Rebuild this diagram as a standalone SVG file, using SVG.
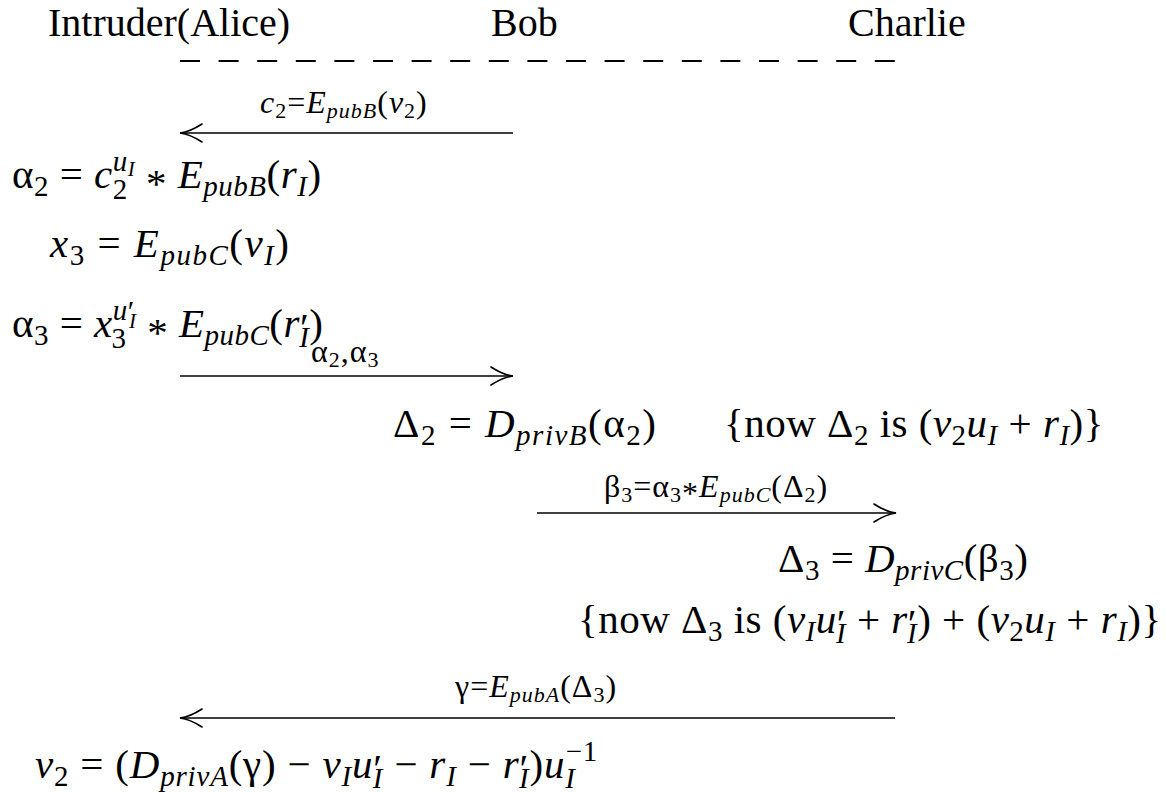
<svg xmlns="http://www.w3.org/2000/svg" width="1166" height="792" viewBox="0 0 1166 792" font-family="Liberation Serif, serif">
<style>
text,tspan{font-family:"Liberation Serif","Times New Roman",serif}
.t{fill:#000}
.h{font-size:40px}
.m{font-size:41px;letter-spacing:0.5px}
.w{letter-spacing:1.5px}
.v{letter-spacing:0.8px}
.l{font-size:32px;letter-spacing:1px}
.i{font-style:italic}
.s{font-size:29px}
.ss{font-size:21px}
.ls{font-size:22px}
.p1{font-size:40px}
.p2{font-size:30px}
.ar{stroke:#000;stroke-width:1.7;fill:none}
.hd{stroke:#000;stroke-width:1.6;fill:none;stroke-linecap:round}
</style>
<defs>
<marker id="headR" viewBox="-24 -10 26 20" refX="0" refY="0" markerWidth="26" markerHeight="20" markerUnits="userSpaceOnUse" orient="auto">
<path class="hd" d="M-22,-9 Q-10,-1.2 0,0 Q-10,1.2 -22,9"/>
</marker>
</defs>
<rect width="1166" height="792" fill="#fff"/>
<g id="header-intruder"><text class="t h" x="48" y="36">Intruder(Alice)</text></g>
<g id="header-bob"><text class="t h" x="491" y="36">Bob</text></g>
<g id="header-charlie"><text class="t h" x="848" y="36">Charlie</text></g>
<g id="separator"><line x1="180" y1="61" x2="895" y2="61" stroke="#000" stroke-width="2" stroke-dasharray="20 18.6"/></g>
<g id="eq-alpha2"><text class="t m" x="12" y="188">α<tspan class="s" y="196">2</tspan><tspan y="188"> = </tspan><tspan class="i">c</tspan><tspan class="s i" y="171">u</tspan><tspan class="ss i" y="176">I</tspan><tspan class="s" dx="-22.5" y="199">2</tspan><tspan dx="7.5" y="188"> </tspan><tspan y="197">*</tspan><tspan y="188"> </tspan><tspan class="i">E</tspan><tspan class="s i" y="196">pubB</tspan><tspan y="188">(</tspan><tspan class="i">r</tspan><tspan class="s i" y="196">I</tspan><tspan y="188">)</tspan></text></g>
<g id="eq-x3"><text class="t m w" x="50" y="257"><tspan class="i">x</tspan><tspan class="s" y="265">3</tspan><tspan y="257"> = </tspan><tspan class="i">E</tspan><tspan class="s i" y="265">pubC</tspan><tspan y="257">(</tspan><tspan class="i">v</tspan><tspan class="s i" y="265">I</tspan><tspan y="257">)</tspan></text></g>
<g id="eq-alpha3"><text class="t m" x="12" y="337">α<tspan class="s" y="345">3</tspan><tspan y="337"> = </tspan><tspan class="i">x</tspan><tspan class="s i" y="320">u</tspan><tspan class="p2" y="321">′</tspan><tspan class="ss i" dx="-6" y="328">I</tspan><tspan class="s" dx="-25" y="348">3</tspan><tspan dx="10" y="337"> </tspan><tspan y="346">*</tspan><tspan y="337"> </tspan><tspan class="i">E</tspan><tspan class="s i" y="345">pubC</tspan><tspan y="337">(</tspan><tspan class="i">r</tspan><tspan class="p1" y="341">′</tspan><tspan class="s i" dx="-10" y="347">I</tspan><tspan y="337">)</tspan></text></g>
<g id="eq-delta2"><text class="t m w" x="393" y="437">Δ<tspan class="s" y="445">2</tspan><tspan y="437"> = </tspan><tspan class="i">D</tspan><tspan class="s i" y="445">privB</tspan><tspan y="437">(α</tspan><tspan class="s" y="445">2</tspan><tspan y="437">)</tspan></text><text class="t m" x="724" y="437">{now Δ<tspan class="s" y="445">2</tspan><tspan y="437"> is (</tspan><tspan class="i">v</tspan><tspan class="s" y="445">2</tspan><tspan class="i" y="437">u</tspan><tspan class="s i" y="445">I</tspan><tspan y="437"> + </tspan><tspan class="i">r</tspan><tspan class="s i" y="445">I</tspan><tspan y="437">)}</tspan></text></g>
<g id="eq-delta3"><text class="t m" x="778" y="572">Δ<tspan class="s" y="580">3</tspan><tspan y="572"> = </tspan><tspan class="i">D</tspan><tspan class="s i" y="580">privC</tspan><tspan y="572">(β</tspan><tspan class="s" y="580">3</tspan><tspan y="572">)</tspan></text></g>
<g id="eq-delta3-note"><text class="t m" x="578" y="633">{now Δ<tspan class="s" y="641">3</tspan><tspan y="633"> is (</tspan><tspan class="i">v</tspan><tspan class="s i" y="641">I</tspan><tspan class="i" y="633">u</tspan><tspan class="p1" y="637">′</tspan><tspan class="s i" dx="-10" y="643">I</tspan><tspan y="633"> + </tspan><tspan class="i">r</tspan><tspan class="p1" y="637">′</tspan><tspan class="s i" dx="-10" y="643">I</tspan><tspan y="633">) + (</tspan><tspan class="i">v</tspan><tspan class="s" y="641">2</tspan><tspan class="i" y="633">u</tspan><tspan class="s i" y="641">I</tspan><tspan y="633"> + </tspan><tspan class="i">r</tspan><tspan class="s i" y="641">I</tspan><tspan y="633">)}</tspan></text></g>
<g id="eq-v2"><text class="t m v" x="35" y="778"><tspan class="i">v</tspan><tspan class="s" y="786">2</tspan><tspan y="778"> = (</tspan><tspan class="i">D</tspan><tspan class="s i" y="786">privA</tspan><tspan y="778">(γ) − </tspan><tspan class="i">v</tspan><tspan class="s i" y="786">I</tspan><tspan class="i" y="778">u</tspan><tspan class="p1" y="782">′</tspan><tspan class="s i" dx="-10" y="788">I</tspan><tspan y="778"> − </tspan><tspan class="i">r</tspan><tspan class="s i" y="786">I</tspan><tspan y="778"> − </tspan><tspan class="i">r</tspan><tspan class="p1" y="782">′</tspan><tspan class="s i" dx="-10" y="788">I</tspan><tspan y="778">)</tspan><tspan class="i">u</tspan><tspan class="s i" y="788">I</tspan><tspan class="s" dx="-10" y="761">−1</tspan></text></g>
<g id="connectors">
<g id="msg-c2"><line class="ar" x1="513" y1="133" x2="180" y2="133" marker-end="url(#headR)"/><text class="t l" x="260" y="113"><tspan class="i">c</tspan><tspan class="ls" y="118">2</tspan><tspan y="113">=</tspan><tspan class="i">E</tspan><tspan class="ls i" y="118">pubB</tspan><tspan y="113">(</tspan><tspan class="i">v</tspan><tspan class="ls" y="118">2</tspan><tspan y="113">)</tspan></text></g>
<g id="msg-alpha"><line class="ar" x1="180" y1="376" x2="513" y2="376" marker-end="url(#headR)"/><text class="t l" x="311" y="362">α<tspan class="ls" y="367">2</tspan><tspan y="362">,α</tspan><tspan class="ls" y="367">3</tspan></text></g>
<g id="msg-beta3"><line class="ar" x1="537" y1="513" x2="896" y2="513" marker-end="url(#headR)"/><text class="t l" x="604" y="497">β<tspan class="ls" y="502">3</tspan><tspan y="497">=α</tspan><tspan class="ls" y="502">3</tspan><tspan y="504">*</tspan><tspan class="i" y="497">E</tspan><tspan class="ls i" y="502">pubC</tspan><tspan y="497">(Δ</tspan><tspan class="ls" y="502">2</tspan><tspan y="497">)</tspan></text></g>
<g id="msg-gamma"><line class="ar" x1="895" y1="718" x2="180" y2="718" marker-end="url(#headR)"/><text class="t l" x="455" y="697">γ=<tspan class="i">E</tspan><tspan class="ls i" y="702">pubA</tspan><tspan y="697">(Δ</tspan><tspan class="ls" y="702">3</tspan><tspan y="697">)</tspan></text></g>
</g>
</svg>
